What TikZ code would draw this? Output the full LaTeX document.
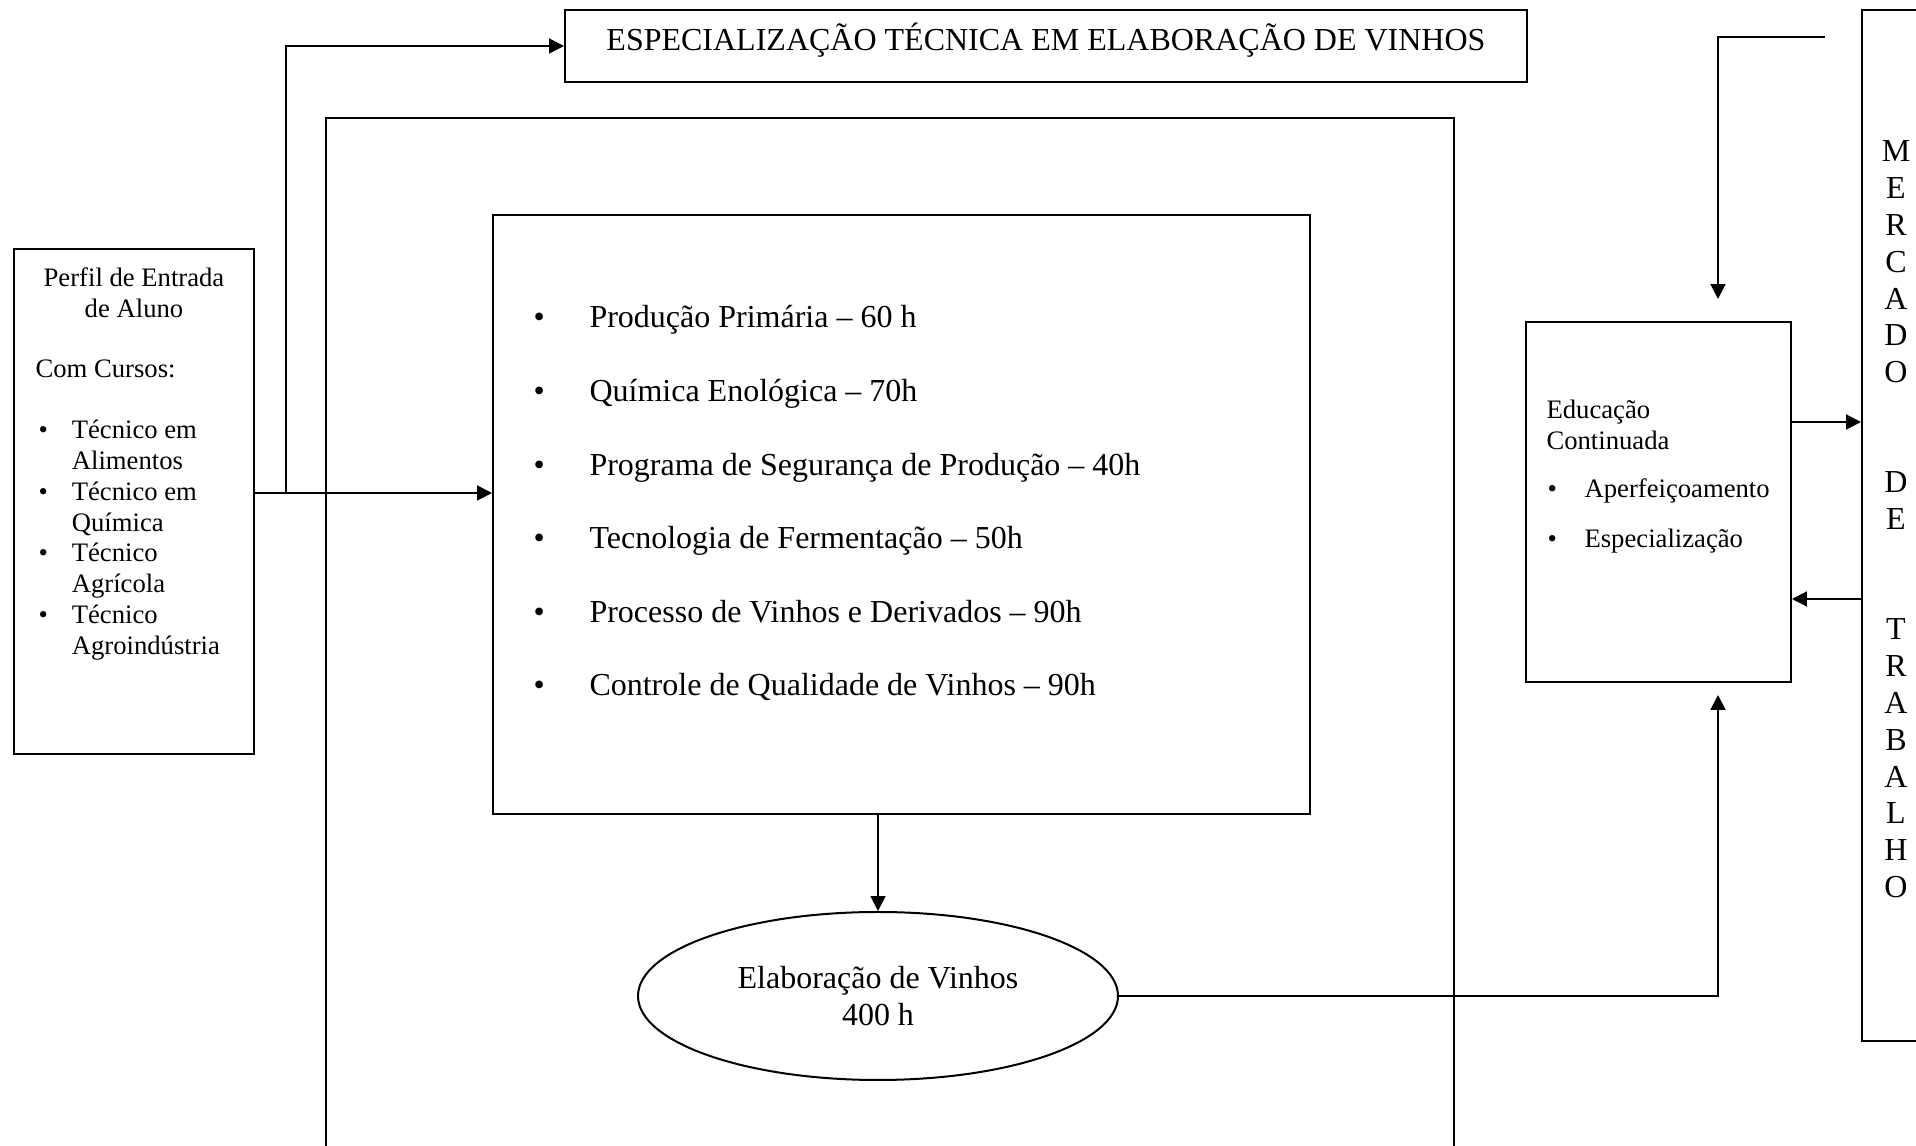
\documentclass[tikz,border=0pt]{standalone}
\usepackage{fontspec}
\setmainfont{Liberation Serif}
\usetikzlibrary{arrows.meta,fit,shapes.geometric}
\tikzset{
  caixa/.style={draw,line width=.75pt,inner sep=0pt},
  seta/.style={-{Triangle[length=5.6pt,width=5.6pt]},line width=.75pt},
  texto/.style={inner sep=0pt,font=\fontsize{12}{13.8}\selectfont},
  textop/.style={inner sep=0pt,font=\fontsize{10}{11.6}\selectfont},
}
\newcommand{\bolag}{\makebox[21pt][l]{\fontsize{12}{12}\selectfont\textbullet}}
\newcommand{\bolap}[1][13.9pt]{\makebox[#1][l]{\fontsize{10}{10}\selectfont\textbullet}}

\begin{document}
\begin{tikzpicture}[x=.375pt,y=-.375pt]
  \useasboundingbox (0,0) rectangle (1916,1146);
  \clip (0,0) rectangle (1916,1146);

  % perfil de entrada
  \node[caixa,fit={(14,249) (254,754)}] (perfil) {};
  \node[textop,anchor=base] (perfiltit) at (134,286.5) {\parbox[t]{80pt}{\centering Perfil de Entrada\\de Aluno}};
  \node[textop,anchor=base west] (cursos) at (35,378) {Com Cursos:};
  \node[textop,anchor=base west] (c1) at (38,439) {\bolap[12.5pt]\parbox[t]{70pt}{Técnico em\\Alimentos}};
  \node[textop,anchor=base west] (c2) at (38,500.5) {\bolap[12.5pt]\parbox[t]{70pt}{Técnico em\\Química}};
  \node[textop,anchor=base west] (c3) at (38,562) {\bolap[12.5pt]\parbox[t]{70pt}{Técnico\\Agrícola}};
  \node[textop,anchor=base west] (c4) at (38,623.5) {\bolap[12.5pt]\parbox[t]{70pt}{Técnico\\Agroindústria}};

  % titulo
  \node[caixa,fit={(565,10) (1527,82)}] (titulo) {};
  \node[texto,anchor=base] (titulotxt) at (1046,51) {ESPECIALIZAÇÃO TÉCNICA EM ELABORAÇÃO DE VINHOS};

  % moldura
  \draw[line width=.75pt] (326,1160) |- (1454,118) -- (1454,1160);

  % disciplinas
  \node[caixa,fit={(493,215) (1310,814)}] (disc) {};
  \node[texto,anchor=base west] (d1) at (533,328) {\bolag Produção Primária – 60 h};
  \node[texto,anchor=base west] (d2) at (533,401.6) {\bolag Química Enológica – 70h};
  \node[texto,anchor=base west] (d3) at (533,475.2) {\bolag Programa de Segurança de Produção – 40h};
  \node[texto,anchor=base west] (d4) at (533,548.8) {\bolag Tecnologia de Fermentação – 50h};
  \node[texto,anchor=base west] (d5) at (533,622.4) {\bolag Processo de Vinhos e Derivados – 90h};
  \node[texto,anchor=base west] (d6) at (533,696) {\bolag Controle de Qualidade de Vinhos – 90h};

  \node[draw,ellipse,line width=.75pt,minimum width=180pt,minimum height=63pt,texto] (elab) at (878,996)
    {\parbox{110pt}{\centering Elaboração de Vinhos\\400 h}};

  % educacao continuada
  \node[caixa,fit={(1526,322) (1791,682)}] (educ) {};
  \node[textop,anchor=base west] (eductit) at (1546,419) {\parbox[t]{80pt}{Educação\\Continuada}};
  \node[textop,anchor=base west] (e1) at (1547,498) {\bolap Aperfeiçoamento};
  \node[textop,anchor=base west] (e2) at (1547,548) {\bolap Especialização};

  % mercado de trabalho
  \node[caixa,fit={(1862,10) (1990,1041)}] (mercado) {};
  \node[texto,anchor=base] (mercadotxt) at (1896,162)
    {\parbox[t]{20pt}{\centering M\\E\\R\\C\\A\\D\\O\\[27.5pt]D\\E\\[27.5pt]T\\R\\A\\B\\A\\L\\H\\O}};

  % ligacoes
  \coordinate (ramo) at (286,493);
  \draw[seta] (perfil.east |- ramo) -- (disc.west |- ramo);
  \draw[seta] (ramo) |- (titulo.west);
  \draw[seta] (disc.south -| elab.north) -- (elab.north);
  \coordinate (sobe) at (1718,695);
  \draw[seta] (elab.east) -| (sobe);
  \coordinate (topo) at (1825,37);
  \coordinate (desce) at (1718,299);
  \draw[seta] (topo) -| (desce);
  \draw[seta] (educ.east |- 0,422) -- (mercado.west |- 0,422);
  \draw[seta] (mercado.west |- 0,599) -- (educ.east |- 0,599);
\end{tikzpicture}
\end{document}
